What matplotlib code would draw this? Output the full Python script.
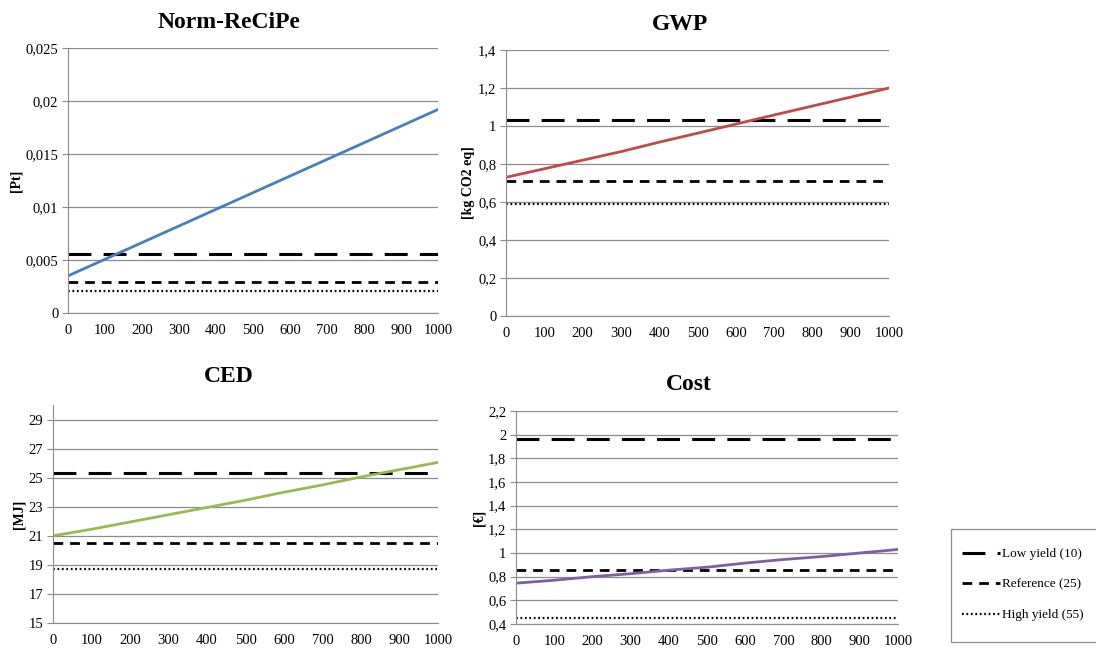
import numpy as np
import matplotlib
matplotlib.use("Agg")
from matplotlib import pyplot as plt
from matplotlib.lines import Line2D
from matplotlib.patches import Rectangle
from matplotlib.ticker import FuncFormatter

plt.rcParams['font.family'] = ['Liberation Serif', 'DejaVu Serif']

# distance axis shared by all four panels
x = [0, 100, 200, 300, 400, 500, 600, 700, 800, 900, 1000]

# curves
recipe = [0.0035, 0.00507, 0.00664, 0.00821, 0.00978, 0.01135, 0.01292, 0.01449, 0.01606, 0.01763, 0.0192]
gwp = [0.73, 0.775, 0.82, 0.865, 0.915, 0.962, 1.01, 1.058, 1.105, 1.152, 1.20]
ced = [21.0, 21.45, 21.95, 22.45, 22.95, 23.45, 24.0, 24.5, 25.05, 25.55, 26.05]
cost = [0.745, 0.77, 0.80, 0.825, 0.855, 0.88, 0.915, 0.945, 0.97, 1.0, 1.03]

# yield scenarios: low (10), reference (25), high (55)
recipe_yield = [0.0056, 0.0029, 0.0021]
gwp_yield = [1.03, 0.71, 0.59]
ced_yield = [25.3, 20.5, 18.7]
cost_yield = [1.96, 0.86, 0.45]

scenario_names = ['Low yield (10)', 'Reference (25)', 'High yield (55)']

W, H = 1096, 651
fig = plt.figure(figsize=(W / 100, H / 100), dpi=100)


def box(left, right, top, bottom):
    return [left / W, (H - bottom) / H, (right - left) / W, (bottom - top) / H]


styles = [
    dict(color='black', lw=2.2, dashes=(7.5, 4)),
    dict(color='black', lw=2.0, dashes=(3.5, 2.5)),
    dict(color='black', lw=1.6, dashes=(0.8, 1.2)),
]

# title, unit, curve, levels, colour, axes box, title centre (px), ylim, yticks
panels = [
    ('Norm-ReCiPe', '[Pt]', recipe, recipe_yield, '#4A7EBB',
     box(68, 438, 48, 313), (229, 22), (0, 0.025), np.arange(0, 0.0251, 0.005)),
    ('GWP', '[kg CO2 eq]', gwp, gwp_yield, '#BE4B48',
     box(506, 889, 50, 316), (680, 24), (0, 1.4), np.arange(0, 1.41, 0.2)),
    ('CED', '[MJ]', ced, ced_yield, '#98B954',
     box(53, 438, 405, 623), (229, 377), (15, 30), np.arange(15, 30, 2)),
    ('Cost', '[€]', cost, cost_yield, '#7D60A0',
     box(516, 898, 411, 624), (689, 385), (0.4, 2.2), np.arange(0.4, 2.21, 0.2)),
]


def comma(v, pos):
    s = ('%.3f' % v).rstrip('0').rstrip('.')
    return s.replace('.', ',')


for title, unit, curve, levels, col, rect, tpos, ylim, yt in panels:
    ax = fig.add_axes(rect)
    ax.set_xlim(0, 1000)
    ax.set_ylim(*ylim)
    ax.set_yticks(yt)
    ax.set_xticks(x)
    ax.yaxis.set_major_formatter(FuncFormatter(comma))
    ax.grid(axis='y', color='#8c8c8c', lw=0.9)
    ax.set_axisbelow(True)
    for s in ['top', 'right']:
        ax.spines[s].set_visible(False)
    for s in ['left', 'bottom']:
        ax.spines[s].set_color('#8c8c8c')
    ax.tick_params(axis='y', length=4, color='#8c8c8c', labelsize=10.5, pad=3)
    ax.tick_params(axis='x', length=0, labelsize=10.5, pad=8)

    for lvl, st in zip(levels, styles):
        ax.axhline(lvl, **st)
    ax.plot(x, curve, color=col, lw=2)

    fig.text(tpos[0] / W, 1 - tpos[1] / H, title, fontsize=17,
             fontweight='bold', ha='center', va='center')
    ax.set_ylabel(unit, fontsize=10, fontweight='bold', labelpad=2)

# legend box runs off the right edge
fig.patches.append(Rectangle((951 / W, (H - 642) / H), 200 / W, 113 / H,
                             transform=fig.transFigure, fill=False,
                             edgecolor='#8c8c8c', lw=0.9))
handles = [Line2D([], [], **st) for st in styles]
fig.legend(handles, scenario_names, loc='upper left',
           bbox_to_anchor=(962 / W, (H - 548) / H),
           fontsize=9.5, frameon=False, handlelength=2.9, handletextpad=0.1,
           labelspacing=1.38, borderpad=0, borderaxespad=0)

fig.savefig('out.png', dpi=100)
